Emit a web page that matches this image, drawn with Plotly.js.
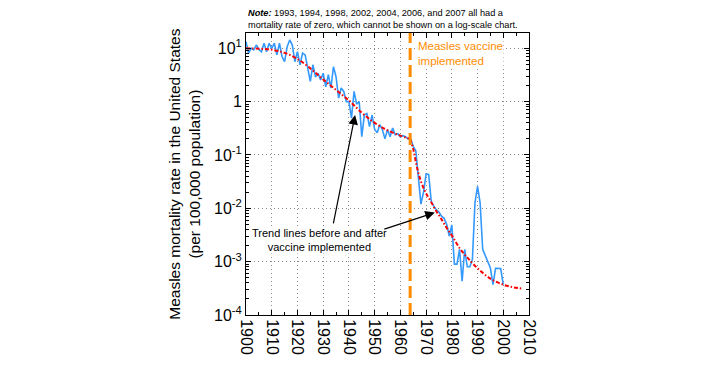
<!DOCTYPE html>
<html><head><meta charset="utf-8">
<script src="https://cdn.plot.ly/plotly-3.0.1.min.js"></script>
<style>html,body{margin:0;padding:0;background:#fff}#c{width:703px;height:369px}</style>
</head><body><div id="c"></div>
<script>
// Measles mortality rate per 100,000 (years with zero deaths omitted)
var years = [1900,1901,1902,1903,1904,1905,1906,1907,1908,1909,
             1910,1911,1912,1913,1914,1915,1916,1917,1918,1919,
             1920,1921,1922,1923,1924,1925,1926,1927,1928,1929,
             1930,1931,1932,1933,1934,1935,1936,1937,1938,1939,
             1940,1941,1942,1943,1944,1945,1946,1947,1948,1949,
             1950,1951,1952,1953,1954,1955,1956,1957,1958,1959,
             1960,1961,1962,1963,1964,1965,1966,1967,1968,1969,
             1970,1971,1972,1973,1974,1975,1976,1977,1978,1979,
             1980,1981,1982,1983,1984,1985,1986,1987,1988,1989,
             1990,1991,1992,1995,1996,1997,1999,2000];
var rates = [13.3,8.1,10.0,9.3,11.5,9.5,8.6,12.4,8.6,12.4,
             10.0,12.4,7.5,12.4,7.0,5.6,10.7,14.3,11.5,5.6,
             8.6,4.9,8.1,7.5,4.2,2.4,4.9,2.9,3.4,2.55,
             3.4,1.9,3.2,1.8,4.5,2.9,1.16,1.8,1.55,1.0,
             1.0,0.49,1.55,0.9,1.0,0.22,0.56,0.6,0.34,0.56,
             0.3,0.26,0.37,0.3,0.2,0.3,0.22,0.32,0.24,0.25,
             0.22,0.23,0.22,0.2,0.2,0.145,0.12,0.04,0.012,0.02,
             0.044,0.043,0.0135,0.011,0.0093,0.0085,0.0071,0.0065,0.005,0.003,
             0.0049,0.0009,0.0009,0.0017,0.00043,0.0017,0.0008,0.0008,0.0011,0.0126,
             0.0257,0.0126,0.0017,0.00076,0.00037,0.00075,0.00074,0.00037];
// Trend lines
var preTrendYears = [1900,1905,1910,1915,1920,1925,1930,1935,1940,1945,1950,1955,1960,1963.8];
var preTrendVals  = [10,9.8,9.4,8.2,6.3,4.2,2.6,1.65,1.05,0.62,0.4,0.29,0.23,0.2];
var postTrendYears = [1963.8,1965,1966,1967,1968,1969,1970,1972,1974,1976,1978,1980,1983,1986,1990,1995,2000,2004,2007.7];
var postTrendVals  = [0.2,0.13,0.075,0.046,0.032,0.024,0.019,0.013,0.0088,0.0062,0.0043,0.0031,0.0018,0.0012,0.00075,0.00048,0.00037,0.00033,0.00031];
// Axis tick labels
var yTickVals = [0.0001,0.001,0.01,0.1,1,10];
var yTickText = ['10<sup>-4</sup>','10<sup>-3</sup>','10<sup>-2</sup>','10<sup>-1</sup>','1','10<sup>1</sup>'];
var xTickVals = [1900,1910,1920,1930,1940,1950,1960,1970,1980,1990,2000,2010];
var xTickText = ['1900','1910','1920','1930','1940','1950','1960','1970','1980','1990','2000','2010'];
var vaccineYear = 1963.8;

var FONT = 'Liberation Sans, Arial, sans-serif';
var traces = [
  {x: years, y: rates, type: 'scatter', mode: 'lines', line: {color: '#3399FF', width: 1.6}, hoverinfo: 'skip'},
  {x: preTrendYears, y: preTrendVals, type: 'scatter', mode: 'lines', line: {color: '#FF0000', width: 2, dash: '4px,2px,1.5px,2px', shape: 'spline'}},
  {x: postTrendYears, y: postTrendVals, type: 'scatter', mode: 'lines', line: {color: '#FF0000', width: 2, dash: '4px,2px,1.5px,2px', shape: 'spline'}}
];
var layout = {
  width: 703, height: 369,
  margin: {l: 245.7, r: 173.7, t: 33, b: 53.5, pad: 0},
  paper_bgcolor: '#fff', plot_bgcolor: '#fff',
  showlegend: false,
  font: {family: FONT, color: '#000'},
  xaxis: {
    range: [1900, 2010], tickmode: 'array', tickvals: xTickVals, ticktext: xTickText,
    tickangle: 90, tickfont: {size: 16, family: FONT},
    ticks: 'inside', ticklen: 5, tickcolor: '#000',
    showline: true, linecolor: '#000', linewidth: 1, mirror: 'ticks',
    showgrid: true, gridcolor: '#8a8a8a', griddash: '1px,3px', gridwidth: 1, zeroline: false,
    minor: {dtick: 5, tick0: 1900, ticks: 'inside', ticklen: 3, tickcolor: '#000', showgrid: false}
  },
  yaxis: {
    type: 'log', range: [-4, 1.286], tickmode: 'array', tickvals: yTickVals, ticktext: yTickText,
    tickfont: {size: 16, family: FONT},
    ticks: 'inside', ticklen: 5, tickcolor: '#000',
    showline: true, linecolor: '#000', linewidth: 1, mirror: 'ticks',
    showgrid: true, gridcolor: '#8a8a8a', griddash: '1px,3px', gridwidth: 1, zeroline: false,
    minor: {dtick: 'D1', ticks: 'inside', ticklen: 3, tickcolor: '#000', showgrid: false}
  },
  shapes: [
    {type: 'line', xref: 'x', yref: 'paper', x0: vaccineYear, x1: vaccineYear, y0: 0, y1: 1,
     line: {color: '#FF8C00', width: 3, dash: '12px,5px'}}
  ],
  annotations: [
    {xref: 'paper', yref: 'paper', x: -0.22, y: 0.5, xanchor: 'center', yanchor: 'middle', textangle: -90,
     text: 'Measles mortality rate in the United States<br>(per 100,000 population)', showarrow: false,
     font: {size: 15.5, family: FONT, color: '#000'}},
    {xref: 'x', yref: 'paper', x: 1900, y: 1, xanchor: 'left', yanchor: 'bottom', align: 'left', yshift: 1,
     text: '<b><i>Note:</i></b> 1993, 1994, 1998, 2002, 2004, 2006, and 2007 all had a<br>mortality rate of zero, which cannot be shown on a log-scale chart.',
     showarrow: false, font: {size: 9.2, family: FONT, color: '#000'}},
    {xref: 'x', yref: 'paper', x: 1966.5, y: 1, xanchor: 'left', yanchor: 'top', align: 'left', yshift: -6,
     bgcolor: '#fff', borderpad: 0,
     text: 'Measles vaccine<br>implemented', showarrow: false, font: {size: 11.5, family: FONT, color: '#FF8C00'}},
    {xref: 'x', yref: 'y', x: 1928.6, y: -2.6, xanchor: 'center', yanchor: 'middle', align: 'center',
     bgcolor: '#fff', borderpad: 0,
     text: 'Trend lines before and after<br>vaccine implemented', showarrow: false, font: {size: 11, family: FONT, color: '#000'}},
    {xref: 'x', yref: 'y', x: 1942.4, y: -0.25, text: '', showarrow: true, arrowhead: 2, arrowsize: 1.6, arrowwidth: 1.2,
     arrowcolor: '#000', ax: -22, ay: 110, standoff: 0},
    {xref: 'x', yref: 'y', x: 1973.4, y: -2.08, text: '', showarrow: true, arrowhead: 2, arrowsize: 1.6, arrowwidth: 1.2,
     arrowcolor: '#000', ax: -52, ay: 17, standoff: 0}
  ]
};
Plotly.newPlot('c', traces, layout, {staticPlot: true, displayModeBar: false});
</script>
</body></html>
